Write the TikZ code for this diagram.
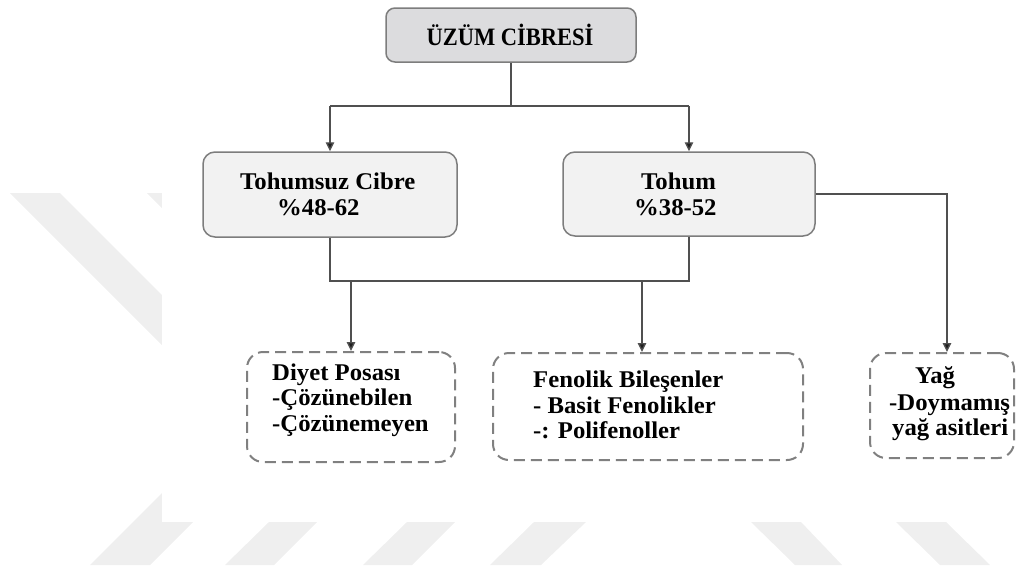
\documentclass[tikz,border=0pt]{standalone}
\usepackage{fontspec}
\setmainfont{Liberation Serif}
\newfontfamily\bxfont{Liberation Serif}[FakeStretch=1.03]
\newfontfamily\topfont{Liberation Serif}[FakeStretch=0.9]
\usetikzlibrary{arrows.meta}
\definecolor{wmgray}{RGB}{239,239,239}
\definecolor{topfill}{RGB}{220,220,222}
\definecolor{midfill}{RGB}{242,242,242}
\definecolor{bordergray}{RGB}{125,125,125}
\definecolor{dashgray}{RGB}{128,128,128}
\definecolor{linegray}{RGB}{80,80,80}
\definecolor{arrowdark}{RGB}{30,30,30}
\tikzset{
  topbox/.style={draw=bordergray, fill=topfill, rounded corners=9pt, line width=1.5pt, inner sep=0pt},
  midbox/.style={draw=bordergray, fill=midfill, rounded corners=12pt, line width=1.5pt, inner sep=0pt},
  dbox/.style={draw=dashgray, dash pattern=on 11pt off 6pt, line width=2pt, rounded corners=16pt, inner sep=0pt},
  conn/.style={draw=linegray, line width=1.4pt},
  arr/.style={conn, -{Triangle[length=9pt,width=8.5pt,fill=arrowdark]}},
  lbl/.style={font=\bxfont\bfseries\fontsize{24}{26}\selectfont, inner sep=0pt, anchor=base west, text=black},
  toplbl/.style={font=\topfont\bfseries\fontsize{25}{27}\selectfont, inner sep=0pt, anchor=base, text=black},
  wm/.style={fill=wmgray, draw=none}
}
\begin{document}
\begin{tikzpicture}[x=1pt,y=-1pt]
\useasboundingbox (0,0) rectangle (1016,570);
% faint watermark
\fill[wm] (10,193) -- (60,193) -- (300,433) -- (250,433) -- cycle;
\fill[wm] (147,193) -- (197,193) -- (260,256) -- (210,256) -- cycle;
\fill[wm] (90,565) -- (150,565) -- (230,485) -- (170,485) -- cycle;
\fill[wm] (225,565) -- (274,565) -- (317,522) -- (269,522) -- cycle;
\fill[wm] (363,565) -- (412,565) -- (455,522) -- (407,522) -- cycle;
\fill[wm] (490,565) -- (541,565) -- (586,522) -- (534,522) -- cycle;
\fill[wm] (751,522) -- (801,522) -- (842,565) -- (795,565) -- cycle;
\fill[wm] (896,522) -- (946,522) -- (990,565) -- (940,565) -- cycle;
\fill[white] (162,0) rectangle (1016,522);

% boxes
\node[topbox, minimum width=250pt, minimum height=54pt] (top) at (511,35) {};
\node[midbox, minimum width=254pt, minimum height=85pt] (tsz) at (330,194.5) {};
\node[midbox, minimum width=252pt, minimum height=84pt] (toh) at (689,194) {};
\node[dbox, minimum width=208pt, minimum height=110pt] (dp) at (351,407) {};
\node[dbox, minimum width=310pt, minimum height=107pt] (fb) at (648,406.5) {};
\node[dbox, minimum width=144pt, minimum height=105pt] (yg) at (942,405.5) {};

% texts
\node[toplbl] (t0) at (510,45) {ÜZÜM CİBRESİ};
\node[lbl] (t1a) at (240,189) {Tohumsuz Cibre};
\node[lbl] (t1b) at (277,215) {\%48-62};
\node[lbl] (t2a) at (641,189) {Tohum};
\node[lbl] (t2b) at (634,215) {\%38-52};
\node[lbl] (t3a) at (272,380) {Diyet Posası};
\node[lbl] (t3b) at (272,405) {-Çözünebilen};
\node[lbl] (t3c) at (272,431) {-Çözünemeyen};
\node[lbl] (t4a) at (533,387) {Fenolik Bileşenler};
\node[lbl] (t4b) at (533,413) {- Basit Fenolikler};
\node[lbl] (t4c) at (533,438) {-: Polifenoller};
\node[lbl] (t5a) at (915,383) {Yağ};
\node[lbl] (t5b) at (889,410) {-Doymamış};
\node[lbl] (t5c) at (892,435) {yağ asitleri};

% connectors
\coordinate (bus1) at (0,106);
\coordinate (bus2) at (0,281);
\coordinate (a1) at (351,281);
\coordinate (a2) at (642,281);
\coordinate (a3) at (947,194);
\draw[conn] (top.south) -- (top.south |- bus1);
\draw[conn] (tsz.north |- bus1) -- (toh.north |- bus1);
\draw[arr] (tsz.north |- bus1) -- (tsz.north);
\draw[arr] (toh.north |- bus1) -- (toh.north);
\draw[conn] (tsz.south) -- (tsz.south |- bus2) -- (toh.south |- bus2) -- (toh.south);
\draw[arr] (a1) -- (a1 |- dp.north);
\draw[arr] (a2) -- (a2 |- fb.north);
\draw[arr] (toh.east) -- (a3) -- (a3 |- yg.north);
\end{tikzpicture}
\end{document}
